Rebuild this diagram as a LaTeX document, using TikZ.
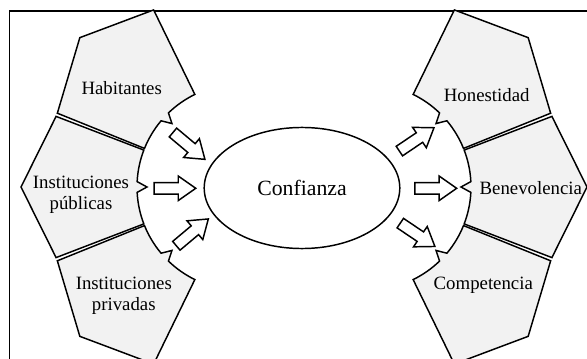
\documentclass[tikz,border=0pt]{standalone}
\usepackage{fontspec}
\setmainfont{Liberation Serif}
\usetikzlibrary{shapes.geometric,shapes.arrows}

\tikzset{
  piece/.style={draw=black, fill=black!5, line width=1.1pt, line join=miter},
  piecetext/.style={font=\fontsize{14.1}{15.5}\selectfont, align=center},
  blockarrow/.style={single arrow, draw=black, fill=white, line width=1.1pt,
    minimum height=31.3pt, inner sep=3.75pt,
    single arrow head extend=4.9pt, single arrow tip angle=70}
}

\begin{document}
\begin{tikzpicture}[x=0.75pt, y=0.75pt]
    \useasboundingbox (0,0) rectangle (587,358);
    \clip (0,0) rectangle (587,358);
    % Frame (cut at right and bottom)
    \draw[line width=0.9pt] (9.5,347) rectangle (620,-20);
    % Left ring of pieces
    \draw[piece, shift={(240,171)}, rotate=137] (21:197) -- (0:219) -- (-21:197) -- (-21:103) arc[start angle=-21, end angle=-3, radius=103] -- (0:93) -- (3:103) arc[start angle=3, end angle=21, radius=103] -- cycle;
    \draw[piece, shift={(240,171)}, rotate=180] (21:197) -- (0:219) -- (-21:197) -- (-21:103) arc[start angle=-21, end angle=-3, radius=103] -- (0:93) -- (3:103) arc[start angle=3, end angle=21, radius=103] -- cycle;
    \draw[piece, shift={(240,171)}, rotate=223] (21:197) -- (0:219) -- (-21:197) -- (-21:103) arc[start angle=-21, end angle=-3, radius=103] -- (0:93) -- (3:103) arc[start angle=3, end angle=21, radius=103] -- cycle;
    % Right ring of pieces
    \draw[piece, shift={(368,171)}, rotate=43] (21:197) -- (0:219) -- (-21:197) -- (-21:103) arc[start angle=-21, end angle=-3, radius=103] -- (0:93) -- (3:103) arc[start angle=3, end angle=21, radius=103] -- cycle;
    \draw[piece, shift={(368,171)}, rotate=0] (21:197) -- (0:219) -- (-21:197) -- (-21:103) arc[start angle=-21, end angle=-3, radius=103] -- (0:93) -- (3:103) arc[start angle=3, end angle=21, radius=103] -- cycle;
    \draw[piece, shift={(368,171)}, rotate=-43] (21:197) -- (0:219) -- (-21:197) -- (-21:103) arc[start angle=-21, end angle=-3, radius=103] -- (0:93) -- (3:103) arc[start angle=3, end angle=21, radius=103] -- cycle;
    % Piece labels
    \node[piecetext] (habitantes) at (121.7,269.7) {Habitantes};
    \node[piecetext] (publicas) at (81,163.3) {Instituciones\\públicas};
    \node[piecetext] (privadas) at (123.8,62) {Instituciones\\privadas};
    \node[piecetext] (honestidad) at (486.7,263) {Honestidad};
    \node[piecetext] (benevolencia) at (530.8,169.7) {Benevolencia};
    \node[piecetext] (competencia) at (483.3,73) {Competencia};
    % Centre
    \node[ellipse, draw, line width=1.1pt, minimum width=146.7pt, minimum height=90.8pt,
      font=\fontsize{16.3}{18}\selectfont] (confianza) at (302,170) {Confianza};
    % Block arrows in
    \node[blockarrow, rotate=-40] (inhab) at (185.8,214.7) {};
    \node[blockarrow] (inpub) at (170.8,169.7) {};
    \node[blockarrow, rotate=40] (inpriv) at (189.2,123) {};
    % Block arrows out
    \node[blockarrow, rotate=34] (outhon) at (413.3,216.3) {};
    \node[blockarrow] (outben) at (431.7,169.7) {};
    \node[blockarrow, rotate=-34] (outcomp) at (414.2,125.5) {};
\end{tikzpicture}
\end{document}
